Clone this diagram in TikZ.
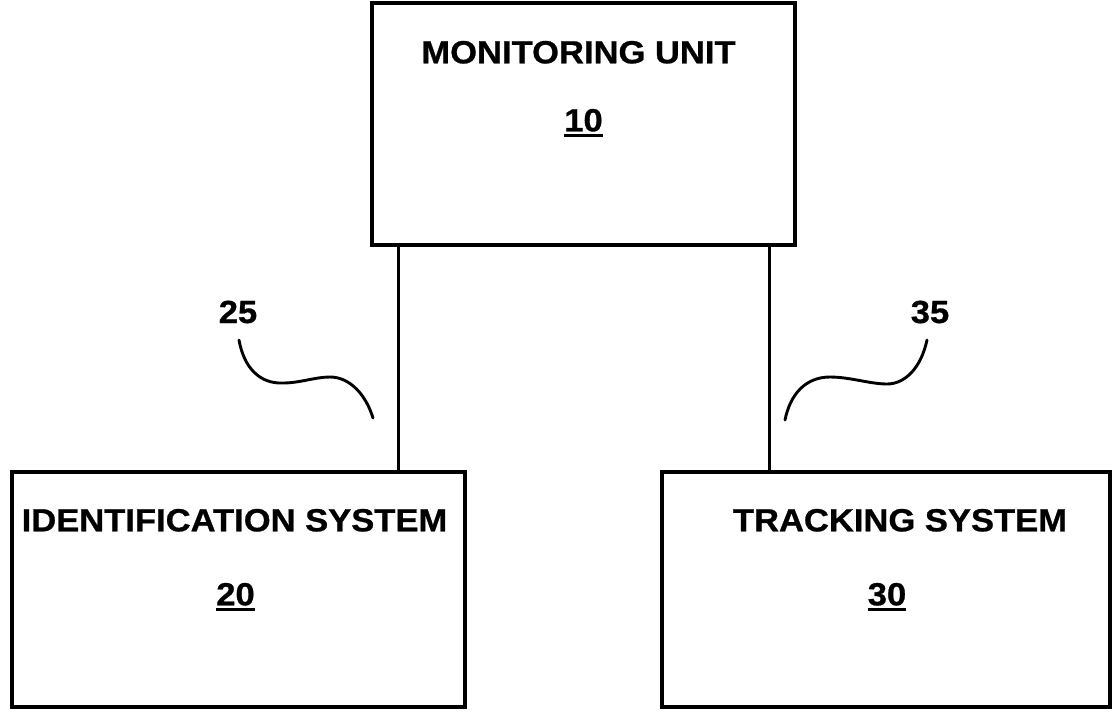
\documentclass[tikz,border=0pt]{standalone}
\usepackage{fontspec}
\setmainfont{Liberation Sans}[FakeStretch=1.08,BoldFeatures={FakeBold=0.8}]
\usetikzlibrary{positioning}
\newcommand{\ulnum}[1]{\setbox0=\hbox{#1}\rlap{\copy0}\rule[-5.8pt]{\wd0}{3pt}}
\begin{document}
\begin{tikzpicture}[x=1pt,y=-1pt,
    blk/.style={draw,line width=3.4pt,inner sep=0pt},
    txt/.style={font=\fontsize{32}{38}\selectfont\bfseries,anchor=base,inner sep=0pt},
    wire/.style={line width=2.9pt},
    lead/.style={line width=2.9pt,line cap=round}]
  \useasboundingbox (0,0) rectangle (1114,713);
  % blocks
  \node[blk,minimum width=423pt,minimum height=242pt] (mon) at (583.5,124) {};
  \node[blk,minimum width=453pt,minimum height=235pt] (id) at (238.5,589.5) {};
  \node[blk,minimum width=448pt,minimum height=235pt] (trk) at (886,589.5) {};
  \node[txt] (mon-t) at ([xshift=-5pt,yshift=-62pt]mon.north) {MONITORING UNIT};
  \node[txt] (mon-n) at ([yshift=-130pt]mon.north) {\ulnum{10}};
  \node[txt] (id-t) at ([xshift=-4pt,yshift=-61pt]id.north) {IDENTIFICATION SYSTEM};
  \node[txt] (id-n) at ([xshift=-3pt,yshift=-135pt]id.north) {\ulnum{20}};
  \node[txt] (trk-t) at ([xshift=14pt,yshift=-61pt]trk.north) {TRACKING SYSTEM};
  \node[txt] (trk-n) at ([xshift=1pt,yshift=-135pt]trk.north) {\ulnum{30}};
  % links
  \coordinate (w1) at ([xshift=28pt]mon.south west);
  \coordinate (w2) at ([xshift=-27pt]mon.south east);
  \draw[wire] (w1) -- (w1 |- id.north);
  \draw[wire] (w2) -- (w2 |- trk.north);
  % reference numerals
  \node[txt] (n25) at (238,323) {25};
  \node[txt] (n35) at (930,323) {35};
  \coordinate (a25) at ([xshift=1pt,yshift=-17pt]n25.base);
  \coordinate (b25) at (373,418);
  \coordinate (a35) at ([xshift=-3pt,yshift=-17pt]n35.base);
  \coordinate (b35) at (785,420);
  \draw[lead] (a25) .. controls (244,368) and (260,384) .. (283,383)
    .. controls (300,383) and (315,377) .. (330,377)
    .. controls (350,377) and (366,395) .. (b25);
  \draw[lead] (a35) .. controls (921,368) and (905,384) .. (887,384)
    .. controls (870,384) and (850,377) .. (830,377)
    .. controls (805,377) and (790,395) .. (b35);
\end{tikzpicture}
\end{document}
